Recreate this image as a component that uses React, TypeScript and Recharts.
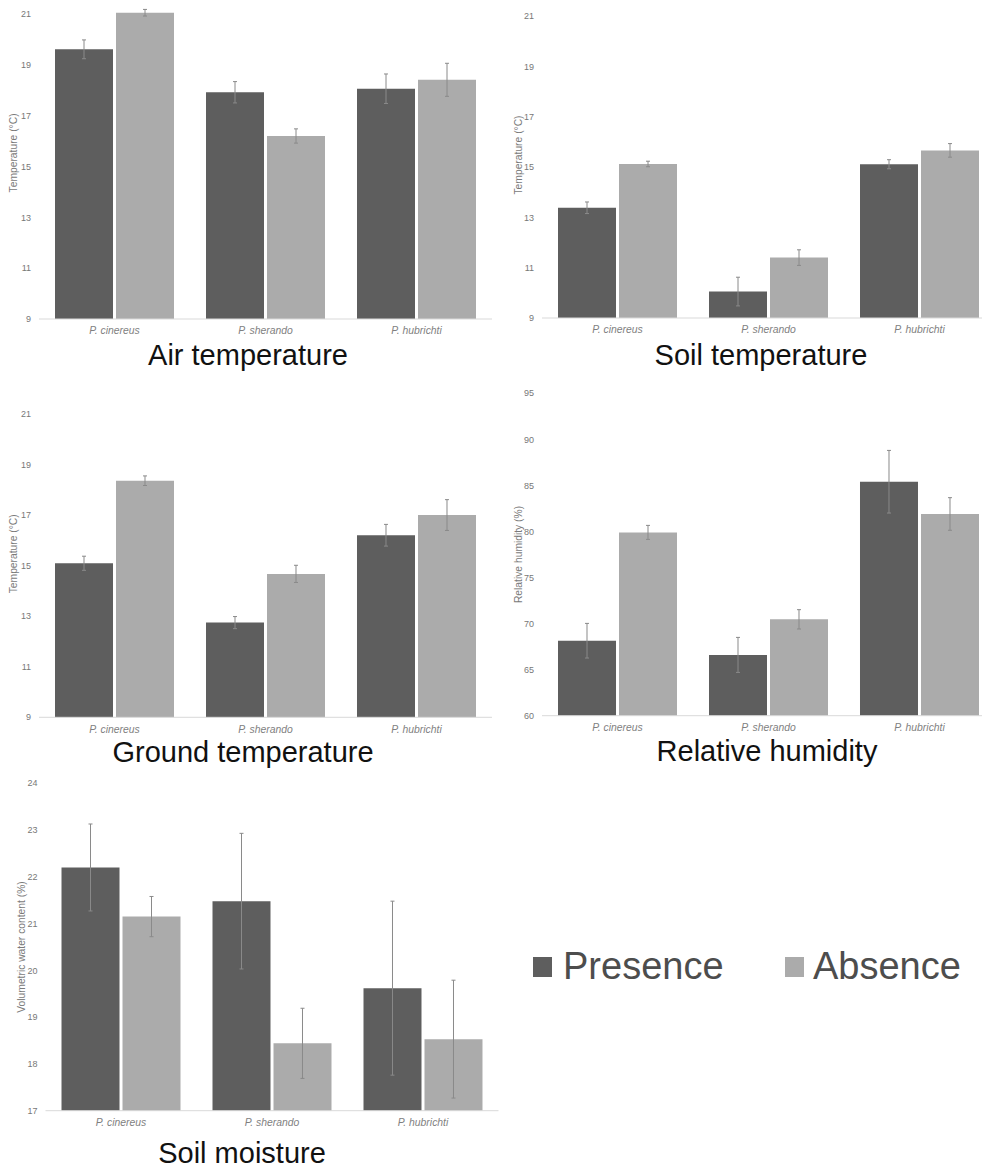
import { BarChart, Bar, XAxis, YAxis, ErrorBar } from 'recharts';

const SPECIES = ['P. cinereus', 'P. sherando', 'P. hubrichti'];

const AIR_PRESENCE = [19.61, 17.92, 18.06];
const AIR_PRESENCE_ERR = [0.37, 0.42, 0.58];
const AIR_ABSENCE = [21.05, 16.2, 18.41];
const AIR_ABSENCE_ERR = [0.13, 0.28, 0.65];

const SOIL_PRESENCE = [13.38, 10.05, 15.11];
const SOIL_PRESENCE_ERR = [0.23, 0.57, 0.18];
const SOIL_ABSENCE = [15.12, 11.4, 15.66];
const SOIL_ABSENCE_ERR = [0.11, 0.31, 0.27];

const GROUND_PRESENCE = [15.1, 12.75, 16.21];
const GROUND_PRESENCE_ERR = [0.28, 0.24, 0.43];
const GROUND_ABSENCE = [18.37, 14.68, 17.01];
const GROUND_ABSENCE_ERR = [0.19, 0.34, 0.61];

const RH_PRESENCE = [68.14, 66.6, 85.4];
const RH_PRESENCE_ERR = [1.88, 1.9, 3.4];
const RH_ABSENCE = [79.9, 70.46, 81.9];
const RH_ABSENCE_ERR = [0.76, 1.05, 1.77];

const VWC_PRESENCE = [22.2, 21.48, 19.62];
const VWC_PRESENCE_ERR = [0.93, 1.45, 1.86];
const VWC_ABSENCE = [21.15, 18.44, 18.53];
const VWC_ABSENCE_ERR = [0.43, 0.75, 1.26];

const TEMP_TICKS = [9, 11, 13, 15, 17, 19, 21];
const RH_TICKS = [60, 65, 70, 75, 80, 85, 90, 95];
const VWC_TICKS = [17, 18, 19, 20, 21, 22, 23, 24];

const PRESENCE_COLOR = '#5e5e5e';
const ABSENCE_COLOR = '#ababab';
const FONT = '"Liberation Sans", Arial, sans-serif';

function makeRows(pres: number[], presErr: number[], abs: number[], absErr: number[]) {
  return SPECIES.map((name, i) => ({
    name,
    presence: pres[i],
    presenceErr: presErr[i],
    absence: abs[i],
    absenceErr: absErr[i],
  }));
}

interface PanelProps {
  left: number;
  top: number;
  yWidth: number;
  plotTop: number;
  plotBottom: number;
  domain: [number, number];
  ticks: number[];
  label: string;
  labelX: number;
  labelDy: number;
  data: ReturnType<typeof makeRows>;
}

function Panel({ left, top, yWidth, plotTop, plotBottom, domain, ticks, label, labelX, labelDy, data }: PanelProps) {
  const width = yWidth + 453;
  const height = plotBottom - top + 26;
  return (
    <div style={{ position: 'absolute', left, top }}>
      <BarChart
        width={width}
        height={height}
        data={data}
        margin={{ top: plotTop - top, right: 0, bottom: 0, left: 0 }}
        barCategoryGap={16}
        barGap={3}
      >
        <XAxis
          dataKey="name"
          interval={0}
          tickLine={false}
          axisLine={{ stroke: '#d9d9d9' }}
          height={26}
          tick={{ fill: '#7f7f7f', fontSize: 10.4, fontStyle: 'italic', fontFamily: FONT }}
        />
        <YAxis
          type="number"
          domain={domain}
          ticks={ticks}
          width={yWidth}
          axisLine={false}
          tickLine={false}
          tick={{ fill: '#777', fontSize: 9, fontFamily: FONT }}
          label={{
            value: label,
            angle: -90,
            position: 'insideLeft',
            offset: labelX,
            dy: labelDy,
            style: { textAnchor: 'middle', fill: '#7a7a7a', fontSize: 10.3, fontFamily: FONT },
          }}
        />
        <Bar dataKey="presence" fill={PRESENCE_COLOR} isAnimationActive={false}>
          <ErrorBar dataKey="presenceErr" width={2} stroke="#8a8a8a" strokeWidth={1} />
        </Bar>
        <Bar dataKey="absence" fill={ABSENCE_COLOR} isAnimationActive={false}>
          <ErrorBar dataKey="absenceErr" width={2} stroke="#8a8a8a" strokeWidth={1} />
        </Bar>
      </BarChart>
    </div>
  );
}

export default function App() {
  return (
    <div
      style={{
        position: 'absolute',
        left: 0,
        top: 0,
        width: 982,
        height: 1170,
        overflow: 'hidden',
        background: '#fff',
        fontFamily: FONT,
      }}
    >
      <Panel
        left={0}
        top={0}
        yWidth={39}
        plotTop={8.9}
        plotBottom={319}
        domain={[9, 21.2]}
        ticks={TEMP_TICKS}
        label="Temperature (°C)"
        labelX={13}
        labelDy={-11}
        data={makeRows(AIR_PRESENCE, AIR_PRESENCE_ERR, AIR_ABSENCE, AIR_ABSENCE_ERR)}
      />
      <Panel
        left={490}
        top={0}
        yWidth={52}
        plotTop={16}
        plotBottom={318}
        domain={[9, 21]}
        ticks={TEMP_TICKS}
        label="Temperature (°C)"
        labelX={28}
        labelDy={-12}
        data={makeRows(SOIL_PRESENCE, SOIL_PRESENCE_ERR, SOIL_ABSENCE, SOIL_ABSENCE_ERR)}
      />
      <Panel
        left={0}
        top={400}
        yWidth={39}
        plotTop={414.3}
        plotBottom={717.3}
        domain={[9, 21]}
        ticks={TEMP_TICKS}
        label="Temperature (°C)"
        labelX={13}
        labelDy={-12}
        data={makeRows(GROUND_PRESENCE, GROUND_PRESENCE_ERR, GROUND_ABSENCE, GROUND_ABSENCE_ERR)}
      />
      <Panel
        left={490}
        top={380}
        yWidth={52}
        plotTop={393.3}
        plotBottom={715.7}
        domain={[60, 95]}
        ticks={RH_TICKS}
        label="Relative humidity (%)"
        labelX={28}
        labelDy={0}
        data={makeRows(RH_PRESENCE, RH_PRESENCE_ERR, RH_ABSENCE, RH_ABSENCE_ERR)}
      />
      <Panel
        left={0}
        top={770}
        yWidth={45.5}
        plotTop={783.3}
        plotBottom={1110.7}
        domain={[17, 24]}
        ticks={VWC_TICKS}
        label="Volumetric water content (%)"
        labelX={21}
        labelDy={0}
        data={makeRows(VWC_PRESENCE, VWC_PRESENCE_ERR, VWC_ABSENCE, VWC_ABSENCE_ERR)}
      />
      <svg
        width={982}
        height={1170}
        style={{ position: 'absolute', left: 0, top: 0, pointerEvents: 'none' }}
      >
        <g fontFamily={FONT} fill="#111" fontSize={29} textAnchor="middle">
          <text x={248} y={365}>Air temperature</text>
          <text x={761} y={365}>Soil temperature</text>
          <text x={243} y={762}>Ground temperature</text>
          <text x={767} y={761}>Relative humidity</text>
          <text x={242} y={1163}>Soil moisture</text>
        </g>
        <rect x={533} y={957} width={19} height={20} fill={PRESENCE_COLOR} />
        <text x={563} y={979} fontFamily={FONT} fontSize={38} fill="#4d4d4d">Presence</text>
        <rect x={785} y={957} width={19} height={20} fill={ABSENCE_COLOR} />
        <text x={813} y={979} fontFamily={FONT} fontSize={38} fill="#4d4d4d">Absence</text>
      </svg>
    </div>
  );
}
